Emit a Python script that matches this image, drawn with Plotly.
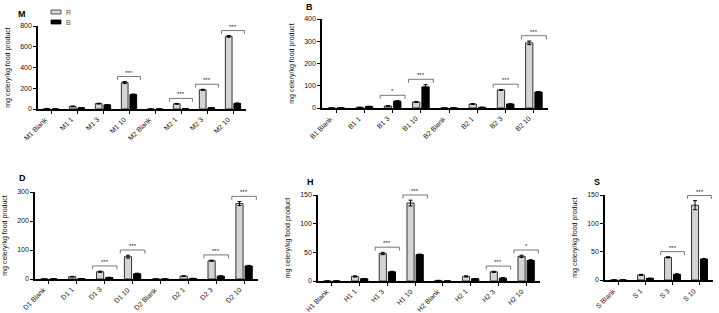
import plotly.graph_objects as go

# ---------------- data ----------------
m_categories = ["M1 Blank", "M1 1", "M1 3", "M1 10", "M2 Blank", "M2 1", "M2 3", "M2 10"]
m_R = [2, 25, 52, 255, 0, 50, 185, 700]
m_B = [0, 12, 40, 140, 0, 3, 12, 55]
m_R_err = [1, 4, 4, 10, 0, 4, 5, 8]
m_B_err = [0, 2, 3, 4, 0, 1, 2, 3]
m_sig = [(3, "***"), (5, "***"), (6, "***"), (7, "***")]

b_categories = ["B1 Blank", "B1 1", "B1 3", "B1 10", "B2 Blank", "B2 1", "B2 3", "B2 10"]
b_R = [0, 3, 9, 27, 0, 18, 81, 293]
b_B = [0, 7, 31, 95, 0, 3, 18, 72]
b_R_err = [0, 1, 1, 2, 0, 2, 2, 8]
b_B_err = [0, 1, 2, 10, 0, 1, 1, 2]
b_sig = [(2, "*"), (3, "***"), (6, "***"), (7, "***")]

d_categories = ["D1 Blank", "D1 1", "D1 3", "D1 10", "D2 Blank", "D2 1", "D2 3", "D2 10"]
d_R = [0, 8, 25, 77, 0, 10, 63, 260]
d_B = [0, 1, 5, 18, 0, 2, 10, 45]
d_R_err = [0, 1, 2, 5, 0, 1, 2, 7]
d_B_err = [0, 0, 1, 2, 0, 0, 1, 2]
d_sig = [(2, "***"), (3, "***"), (6, "***"), (7, "***")]

h_categories = ["H1 Blank", "H1 1", "H1 3", "H1 10", "H2 Blank", "H2 1", "H2 3", "H2 10"]
h_R = [0, 8, 48, 136, 1, 8, 16, 43]
h_B = [0, 4, 16, 46, 0, 4, 5, 36]
h_R_err = [0, 1, 2, 5, 0, 1, 1, 2]
h_B_err = [0, 0, 1, 1, 0, 0, 1, 1]
h_sig = [(2, "***"), (3, "***"), (6, "***"), (7, "*")]

s_categories = ["S Blank", "S 1", "S 3", "S 10"]
s_R = [0, 9, 40, 132]
s_B = [0, 3, 10, 37]
s_R_err = [0, 1, 1, 8]
s_B_err = [0, 0, 1, 1]
s_sig = [(2, "***"), (3, "***")]

series_names = ["R", "B"]
y_title = "mg celery/kg food product"

W, H = 719, 313
FONT = "Liberation Sans, Arial, sans-serif"
R_COLOR = "#d4d4d4"
B_COLOR = "#000000"

panels = [
    dict(letter="M", cats=m_categories, R=m_R, B=m_B, Re=m_R_err, Be=m_B_err, sig=m_sig,
         ymax=800, dtick=200, px=(38, 246), py=(26, 109), lpos=(22, 14)),
    dict(letter="B", cats=b_categories, R=b_R, B=b_B, Re=b_R_err, Be=b_B_err, sig=b_sig,
         ymax=400, dtick=100, px=(322, 548), py=(19, 108), lpos=(309, 7)),
    dict(letter="D", cats=d_categories, R=d_R, B=d_B, Re=d_R_err, Be=d_B_err, sig=d_sig,
         ymax=300, dtick=100, px=(35, 258), py=(192, 279), lpos=(22, 178)),
    dict(letter="H", cats=h_categories, R=h_R, B=h_B, Re=h_R_err, Be=h_B_err, sig=h_sig,
         ymax=150, dtick=50, px=(318, 540), py=(195, 281), lpos=(310, 182)),
    dict(letter="S", cats=s_categories, R=s_R, B=s_B, Re=s_R_err, Be=s_B_err, sig=s_sig,
         ymax=150, dtick=50, px=(605, 713), py=(195, 280), lpos=(597, 182)),
]


def nz(errs):
    return [e if e > 0 else None for e in errs]


fig = go.Figure()
shapes = []
annotations = []
axes = {}

for k, p in enumerate(panels):
    n = k + 1
    xa = "x" if n == 1 else f"x{n}"
    ya = "y" if n == 1 else f"y{n}"
    fig.add_trace(go.Bar(
        x=p["cats"], y=p["R"], name=series_names[0], xaxis=xa, yaxis=ya,
        marker=dict(color=R_COLOR, line=dict(color="#333333", width=1)),
        error_y=dict(type="data", array=nz(p["Re"]), color="#000000", thickness=1, width=2),
        showlegend=False,
    ))
    fig.add_trace(go.Bar(
        x=p["cats"], y=p["B"], name=series_names[1], xaxis=xa, yaxis=ya,
        marker=dict(color=B_COLOR, line=dict(color="#000000", width=1)),
        error_y=dict(type="data", array=nz(p["Be"]), color="#000000", thickness=1, width=2),
        showlegend=False,
    ))
    xdom = [p["px"][0] / W, p["px"][1] / W]
    ydom = [1 - p["py"][1] / H, 1 - p["py"][0] / H]
    ncat = len(p["cats"])
    axes["xaxis" if n == 1 else f"xaxis{n}"] = dict(
        domain=xdom, anchor=ya, type="category", range=[-0.5, ncat - 0.5],
        showline=True, linecolor="#000000", linewidth=1.5,
        ticks="outside", ticklen=3, tickwidth=1, tickcolor="#000000",
        showticklabels=False,
        showgrid=False, zeroline=False, fixedrange=True, automargin=False,
    )
    axes["yaxis" if n == 1 else f"yaxis{n}"] = dict(
        domain=ydom, anchor=xa, range=[0, p["ymax"]], dtick=p["dtick"],
        showline=True, linecolor="#000000", linewidth=1.5,
        ticks="outside", ticklen=3, tickwidth=1, tickcolor="#000000",
        tickfont=dict(family=FONT, size=7, color="#111111"),
        title=dict(text=y_title, font=dict(family=FONT, size=7, color="#111111"), standoff=9),
        showgrid=False, zeroline=False, fixedrange=True, automargin=False,
    )
    # rotated category labels
    for i, c in enumerate(p["cats"]):
        annotations.append(dict(text=c, xref=xa, yref=f"{ya} domain", x=i, y=0,
                                xanchor="right", yanchor="top", textangle=-45,
                                xshift=1, yshift=-4, showarrow=False,
                                font=dict(family=FONT, size=7, color="#111111")))
    # significance brackets
    for idx, label in p["sig"]:
        top = max(p["R"][idx] + p["Re"][idx], p["B"][idx] + p["Be"][idx])
        yb = top / p["ymax"] + 0.06
        leg = 0.04
        shapes.append(dict(type="line", xref=xa, yref=f"{ya} domain",
                           x0=idx - 0.44, x1=idx + 0.44, y0=yb, y1=yb,
                           line=dict(color="#555555", width=0.8)))
        for xx in (idx - 0.44, idx + 0.44):
            shapes.append(dict(type="line", xref=xa, yref=f"{ya} domain",
                               x0=xx, x1=xx, y0=yb, y1=yb - leg,
                               line=dict(color="#555555", width=0.8)))
        annotations.append(dict(text=label, xref=xa, yref=f"{ya} domain", x=idx, y=yb,
                                yanchor="bottom", showarrow=False, yshift=-1,
                                font=dict(family=FONT, size=6, color="#222222")))
    annotations.append(dict(text=f"<b>{p['letter']}</b>", xref="paper", yref="paper",
                            x=p["lpos"][0] / W, y=1 - p["lpos"][1] / H,
                            xanchor="center", yanchor="middle", showarrow=False,
                            font=dict(family=FONT, size=9, color="#000000")))

# custom legend (small rectangles as in the reference)
legend_items = [(series_names[0], R_COLOR, "#333333", 12), (series_names[1], B_COLOR, "#000000", 22)]
for name, fill, edge, yc in legend_items:
    shapes.append(dict(type="rect", xref="paper", yref="paper",
                       x0=51 / W, x1=61 / W, y0=1 - (yc + 2) / H, y1=1 - (yc - 2) / H,
                       fillcolor=fill, line=dict(color=edge, width=0.8)))
    annotations.append(dict(text=name, xref="paper", yref="paper", x=64 / W, y=1 - yc / H,
                            xanchor="left", yanchor="middle", showarrow=False,
                            font=dict(family=FONT, size=7, color="#555555")))

fig.update_layout(
    width=W, height=H, margin=dict(l=0, r=0, t=0, b=0),
    paper_bgcolor="white", plot_bgcolor="white",
    barmode="group", bargap=0.34, bargroupgap=0.22,
    shapes=shapes, annotations=annotations, showlegend=False,
    font=dict(family=FONT),
    **axes,
)

fig.write_html("out.html")
